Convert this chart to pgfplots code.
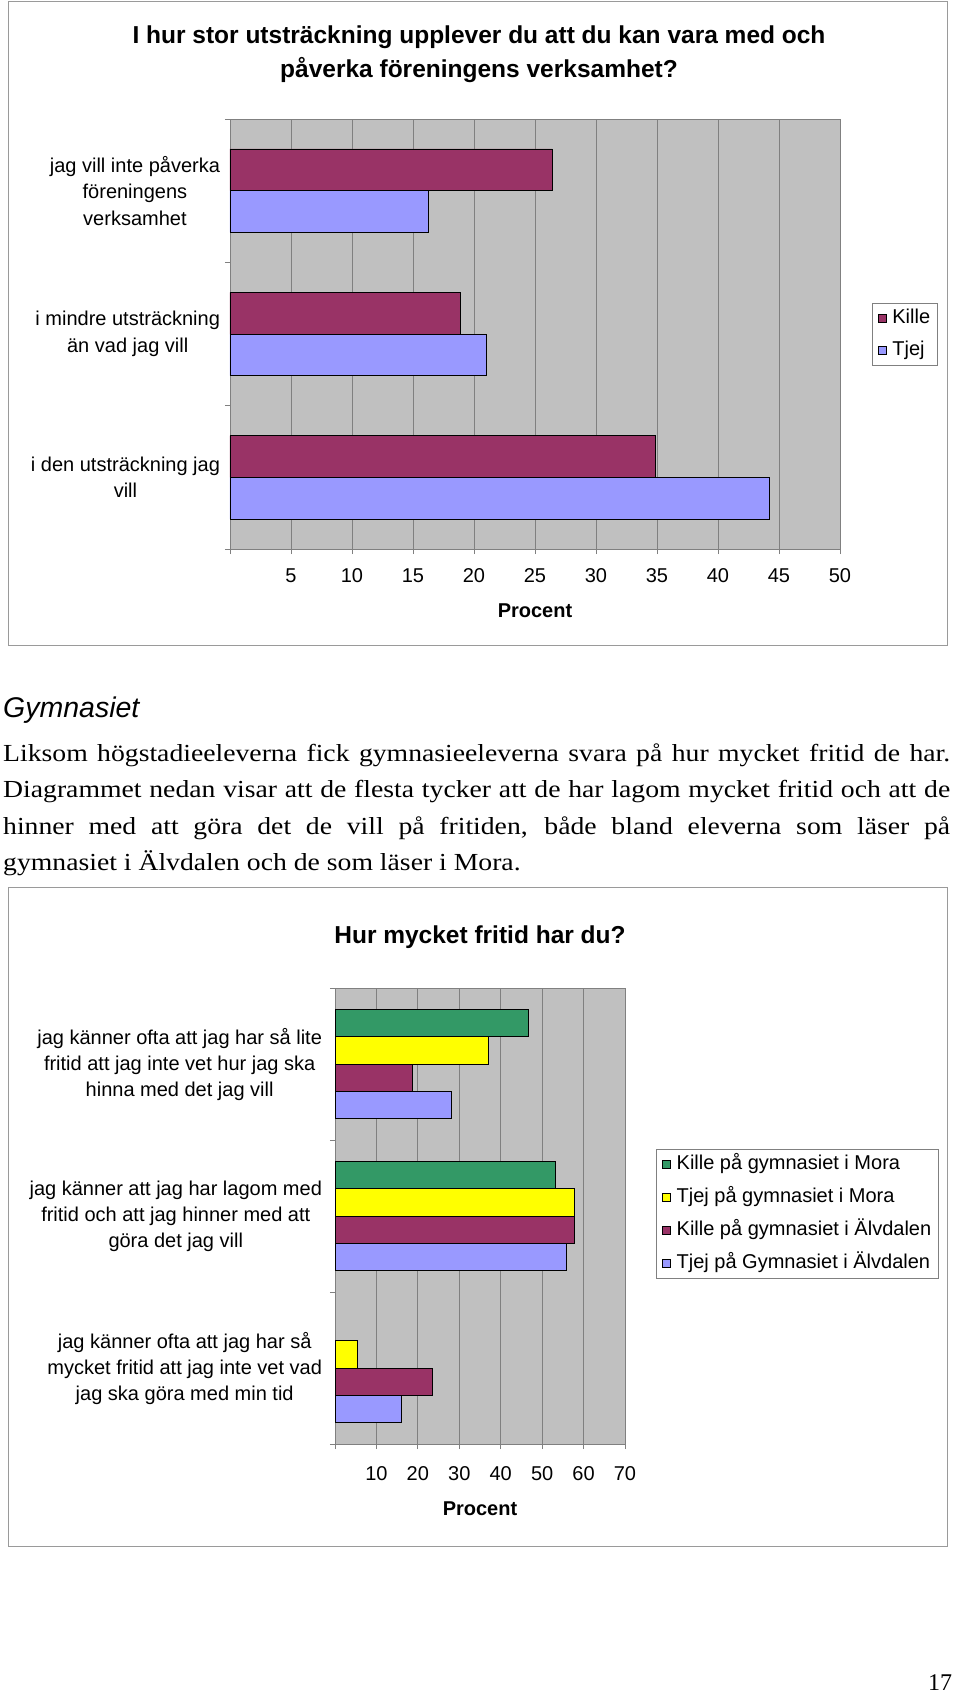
\documentclass[border=0pt]{standalone}
\usepackage{fontspec}
\setmainfont{Liberation Serif}
\newfontfamily\arial{Liberation Sans}
\usepackage{graphicx}
\usepackage{pgfplots}
\usepackage{pgfplotstable}
\pgfplotsset{compat=1.18}
\definecolor{kille}{HTML}{993366}
\definecolor{tjej}{HTML}{9999FF}
\definecolor{grn}{HTML}{339966}
\definecolor{ylw}{HTML}{FFFF00}
\definecolor{plotbg}{HTML}{C0C0C0}
\definecolor{gridc}{HTML}{808080}
\definecolor{framec}{HTML}{9A9A9A}

% Top chart: y = 2 (top), 1, 0 (bottom)
\pgfplotstableread{
y v
2 26.4
1 18.85
0 34.9
}\topKille
\pgfplotstableread{
y v
2 16.3
1 21.0
0 44.2
}\topTjej

% Bottom chart
\pgfplotstableread{
y v
2 46.6
1 53.3
}\kMora
\pgfplotstableread{
y v
2 37.0
1 57.7
0 5.4
}\tMora
\pgfplotstableread{
y v
2 18.7
1 57.8
0 23.5
}\kAlv
\pgfplotstableread{
y v
2 28.0
1 55.9
0 16.0
}\tAlv

\pgfplotsset{
  excelbar/.style={
    scale only axis,
    xbar,
    axis background/.style={fill=plotbg},
    axis line style={draw=gridc, line width=0.8pt},
    xmajorgrids, grid style={draw=gridc, line width=0.8pt},
    ymin=-0.5, ymax=2.5,
    ytick={-0.5,0.5,1.5,2.5}, yticklabels={},
    tick align=outside, tick pos=left, major tick length=5pt,
    tick style={draw=gridc, line width=0.8pt},
    ticklabel style={font=\arial\fontsize{20}{26}\selectfont},
    /pgf/number format/assume math mode=true,
    extra y ticks={0,1,2},
    xlabel style={font=\arial\bfseries\fontsize{20}{24}\selectfont},
    legend cell align=left,
    legend image code/.code={\draw[#1, draw=black, line width=0.7pt] (0pt,-4pt) rectangle (8pt,4pt); \path (12pt,0pt);},
  },
  excellegend/.style={
    draw=gridc, line width=0.8pt,
    font=\arial\fontsize{20}{24}\selectfont,
    nodes={inner sep=1.5pt, text height=14.5pt, text depth=4.5pt},
    row sep=10pt, inner xsep=6pt, inner ysep=4pt,
  },
}

\newcommand{\bodyline}[1]{\scalebox{1.13}[1]{\fontsize{24.5}{36}\selectfont\makebox[838pt][s]{#1}}}
\newcommand{\lastline}[1]{\scalebox{1.13}[1]{\fontsize{24.5}{36}\selectfont #1}}

\begin{document}
\begin{tikzpicture}
\path[use as bounding box] (0pt,0pt) rectangle (960pt,-1695pt);
\fill[white] (0pt,0pt) rectangle (960pt,-1695pt);

% frames
\draw[framec, line width=1pt] (8.6pt,-1.5pt) rectangle (947pt,-645pt);
\draw[framec, line width=1pt] (8.6pt,-887.5pt) rectangle (947pt,-1546pt);

% top title
\node[anchor=base, inner sep=0pt] at (479pt,-43.5pt) {\arial\bfseries\fontsize{24.5}{32}\selectfont I hur stor utsträckning upplever du att du kan vara med och};
\node[anchor=base, inner sep=0pt] at (479pt,-77.5pt) {\arial\bfseries\fontsize{24.5}{32}\selectfont påverka föreningens verksamhet?};

\begin{axis}[excelbar,
  at={(230pt,-119pt)}, anchor=north west,
  width=610pt, height=430pt,
  bar width=41.7pt,
  xmin=0, xmax=50,
  xtick={0,5,...,50}, xticklabels={,5,10,15,20,25,30,35,40,45,50},
  xticklabel style={yshift=-11pt},
  extra y tick labels={{i den utsträckning jag\\vill},{i mindre utsträckning\\än vad jag vill},{jag vill inte påverka\\föreningens\\verksamhet}},
  extra y tick style={major tick length=0pt, yticklabel style={align=center, xshift=-6.5pt, font=\arial\fontsize{20}{26.5}\selectfont}},
  xlabel={Procent},
  xlabel style={at={(axis description cs:0.5,-0.144)}, anchor=center},
  legend style={excellegend, at={(axis description cs:1.052,0.573)}, anchor=north west},
]
\addplot[fill=kille, draw=black, line width=0.8pt, bar shift=20.85pt] table[x=v,y=y]{\topKille};
\addplot[fill=tjej, draw=black, line width=0.8pt, bar shift=-20.85pt] table[x=v,y=y]{\topTjej};
\legend{Kille,Tjej}
\end{axis}

% text
\node[anchor=base west, inner sep=0pt] at (3pt,-717pt) {\arial\itshape\fontsize{28.5}{32}\selectfont Gymnasiet};
\node[anchor=base west, inner sep=0pt] at (3pt,-761pt) {\bodyline{Liksom högstadieeleverna fick gymnasieeleverna svara på hur mycket fritid de har.}};
\node[anchor=base west, inner sep=0pt] at (3pt,-797.5pt) {\bodyline{Diagrammet nedan visar att de flesta tycker att de har lagom mycket fritid och att de}};
\node[anchor=base west, inner sep=0pt] at (3pt,-834pt) {\bodyline{hinner med att göra det de vill på fritiden, både bland eleverna som läser på}};
\node[anchor=base west, inner sep=0pt] at (3pt,-870pt) {\lastline{gymnasiet i Älvdalen och de som läser i Mora.}};

% bottom title
\node[anchor=base, inner sep=0pt] at (480pt,-943pt) {\arial\bfseries\fontsize{24.5}{32}\selectfont Hur mycket fritid har du?};

\begin{axis}[excelbar,
  at={(335pt,-988pt)}, anchor=north west,
  width=290pt, height=456pt,
  bar width=27.4pt,
  xmin=0, xmax=70,
  xtick={0,10,...,70}, xticklabels={,10,20,30,40,50,60,70},
  xticklabel style={yshift=-14pt},
  extra y tick labels={{jag känner ofta att jag har så\\mycket fritid att jag inte vet vad\\jag ska göra med min tid},{jag känner att jag har lagom med\\fritid och att jag hinner med att\\göra det jag vill},{jag känner ofta att jag har så lite\\fritid att jag inte vet hur jag ska\\hinna med det jag vill}},
  extra y tick style={major tick length=0pt, yticklabel style={align=center, xshift=-9.5pt, font=\arial\fontsize{20}{26}\selectfont}},
  xlabel={Procent},
  xlabel style={at={(axis description cs:0.5,-0.1425)}, anchor=center},
  legend style={excellegend, row sep=11pt, at={(axis description cs:1.107,0.6475)}, anchor=north west},
]
\addplot[fill=grn, draw=black, line width=0.8pt, bar shift=41.1pt] table[x=v,y=y]{\kMora};
\addplot[fill=ylw, draw=black, line width=0.8pt, bar shift=13.7pt] table[x=v,y=y]{\tMora};
\addplot[fill=kille, draw=black, line width=0.8pt, bar shift=-13.7pt] table[x=v,y=y]{\kAlv};
\addplot[fill=tjej, draw=black, line width=0.8pt, bar shift=-41.1pt] table[x=v,y=y]{\tAlv};
\legend{Kille på gymnasiet i Mora,Tjej på gymnasiet i Mora,Kille på gymnasiet i Älvdalen,Tjej på Gymnasiet i Älvdalen}
\end{axis}

\node[anchor=center, inner sep=0pt] at (940pt,-1683pt) {\fontsize{24}{28}\selectfont 17};
\end{tikzpicture}
\end{document}
